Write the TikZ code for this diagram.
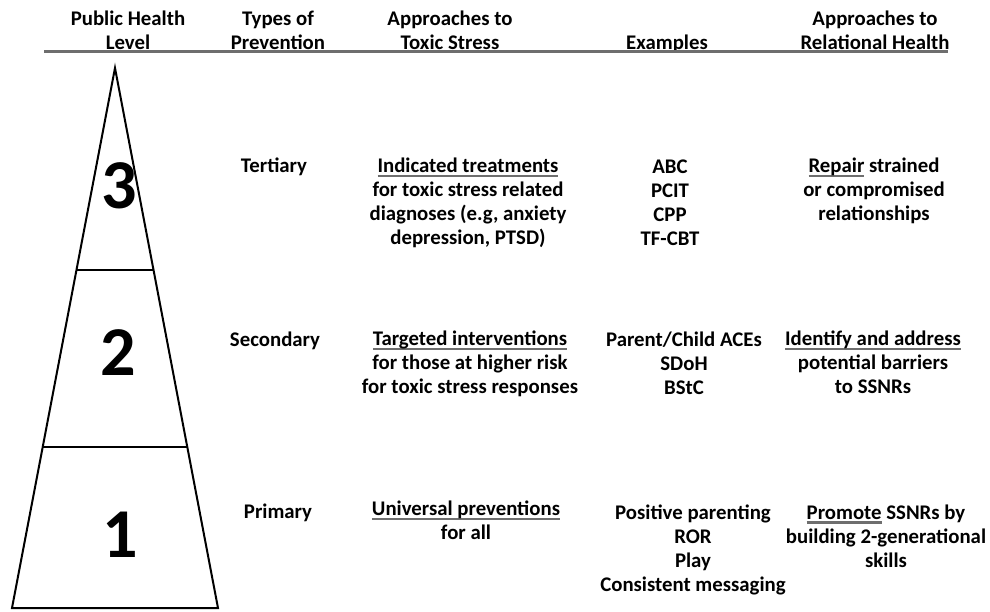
\documentclass[tikz,border=0pt]{standalone}
\usepackage{fontspec}
\setmainfont{Carlito}
\usetikzlibrary{positioning, calc}
\usepackage{xcolor}
\definecolor{rulegray}{HTML}{6E6E6E}

% gray underline under the key words
\newsavebox\ulbox
\newcommand{\grayul}[1]{\sbox\ulbox{#1}\rlap{\textcolor{rulegray}{\rule[-4.5pt]{\wd\ulbox}{2.2pt}}}\usebox\ulbox}

\begin{document}
\begin{tikzpicture}[x=1pt, y=-1pt,
    cell/.style={font=\bfseries\fontsize{20.8}{24}\selectfont, align=center, inner sep=0pt, anchor=base},
    level/.style={font=\bfseries\fontsize{70}{70}\selectfont, inner sep=0pt},
    tier/.style={line width=2pt, black}]

        \useasboundingbox (0,0) rectangle (990,611);

        % Column heads (base = last line)
        \node[cell] (hlevel) at (128,49.5) {Public Health\\Level};
        \node[cell] (htype) at (278,49.5) {Types of\\Prevention};
        \node[cell] (htoxic) at (450,49.5) {Approaches to\\Toxic Stress};
        \node[cell] (hexample) at (667,49.5) {Examples};
        \node[cell] (hrelation) at (875,49.5) {Approaches to\\Relational Health};
        \draw[line width=3pt, rulegray] (44,51.5) -- (948,51.5); % rule under the heads

        % Pyramid
        \coordinate (apex) at (115,68);
        \coordinate (baseL) at (12,608);
        \coordinate (baseR) at (218,608);
        \draw[tier] (apex) -- (baseL) -- (baseR) -- cycle;
        \draw[tier] ($(apex)!0.374!(baseL)$) -- ($(apex)!0.374!(baseR)$); % top tier
        \draw[tier] ($(apex)!0.702!(baseL)$) -- ($(apex)!0.702!(baseR)$); % middle tier

        % Level numbers
        \node[level] (three) at (119,186) {3};
        \node[level] (two) at (118,353) {2};
        \node[level] (one) at (120,535) {1};

        % Level 3
        \node[cell] (tertiary) at (274,172.5) {Tertiary};
        \node[cell] (toxic3) at (468,244.5) {\grayul{Indicated treatments}\\for toxic stress related\\diagnoses (e.g, anxiety\\depression, PTSD)};
        \node[cell] (example3) at (670,245.5) {ABC\\PCIT\\CPP\\TF-CBT};
        \node[cell] (relation3) at (874,220.5) {\grayul{Repair} strained\\or compromised\\relationships};

        % Level 2
        \node[cell] (secondary) at (275,346) {Secondary};
        \node[cell] (toxic2) at (470,393.5) {\grayul{Targeted interventions}\\for those at higher risk\\for toxic stress responses};
        \node[cell] (example2) at (684,394) {Parent/Child ACEs\\SDoH\\BStC};
        \node[cell] (relation2) at (873,393.5) {\grayul{Identify and address}\\potential barriers\\to SSNRs};

        % Level 1
        \node[cell] (primary) at (278,518.5) {Primary};
        \node[cell] (toxic1) at (466,539.5) {\grayul{Universal preventions}\\for all};
        \node[cell] (example1) at (693,591) {Positive parenting\\ROR\\Play\\Consistent messaging};
        \node[cell] (relation1) at (886,567) {\grayul{Promote} SSNRs by\\building 2-generational\\skills};

    \end{tikzpicture}
\end{document}
